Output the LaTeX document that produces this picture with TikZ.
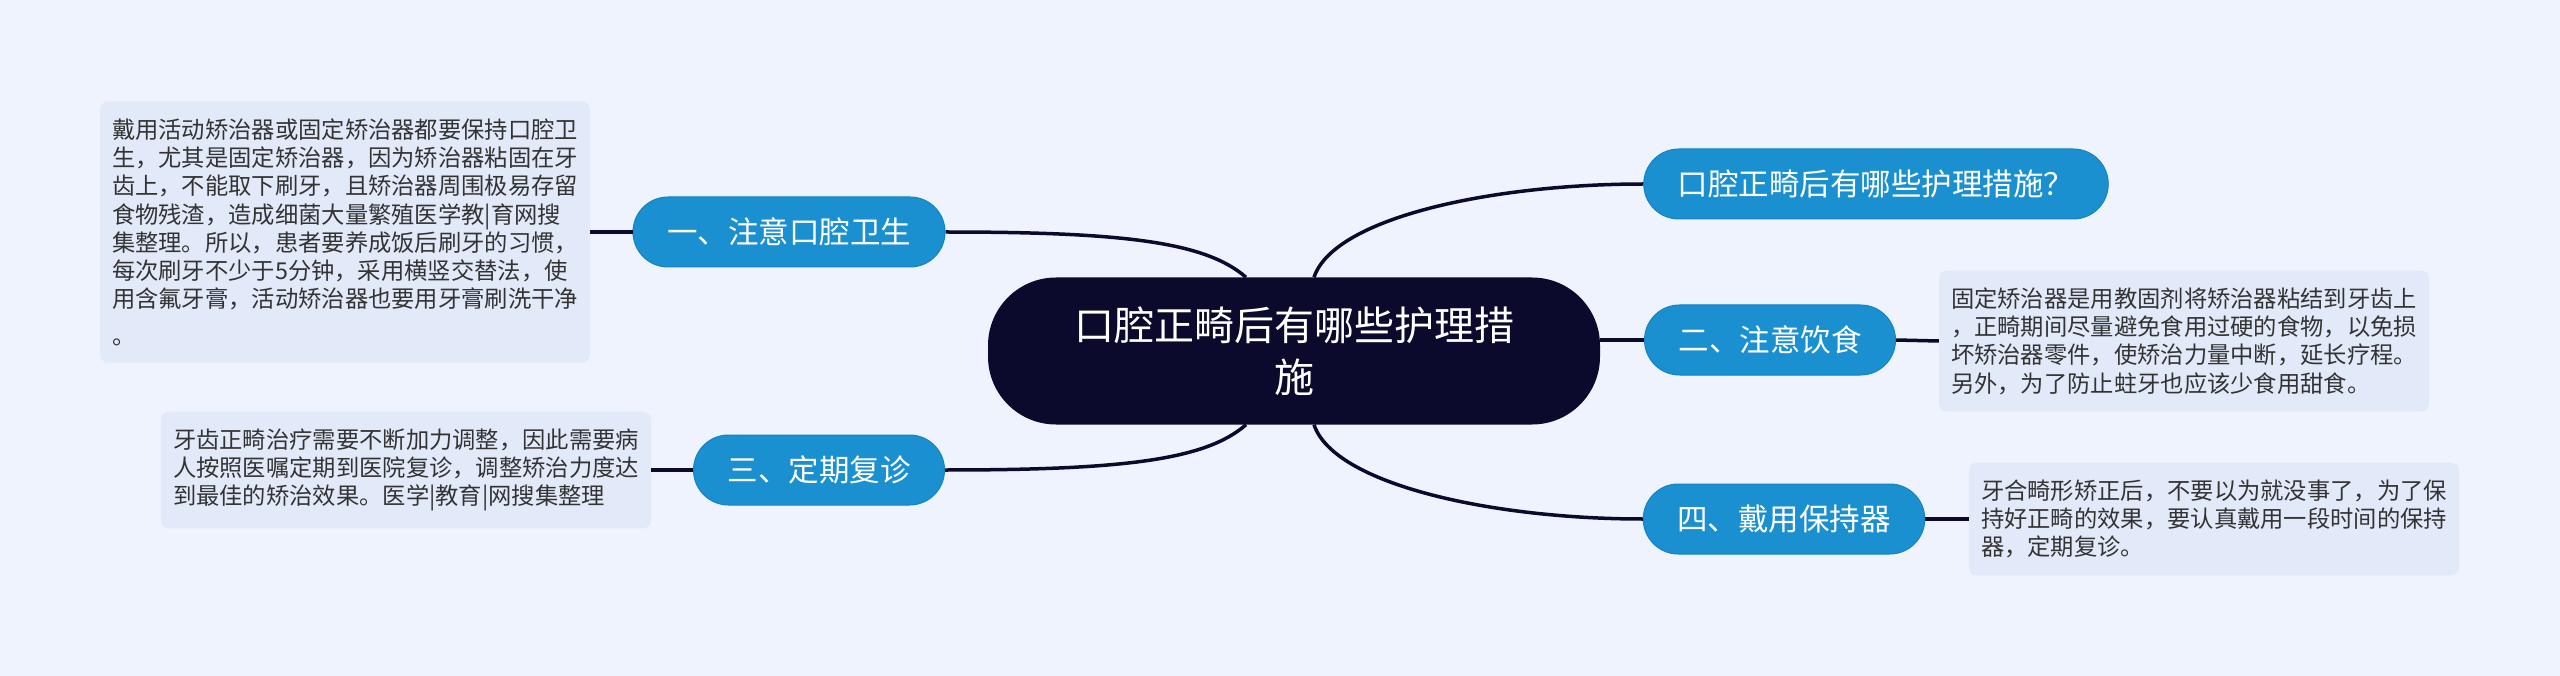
\documentclass[tikz,border=0pt]{standalone}
\usepackage{fontspec}
\usepackage{tikz}
\usetikzlibrary{calc}
\newfontfamily\cjk{Noto Sans CJK SC}
\definecolor{bgblue}{HTML}{EEF3FD}
\definecolor{notebg}{HTML}{E2EAFA}
\definecolor{branchblue}{HTML}{1A90D0}
\definecolor{branchedge}{HTML}{1782C2}
\definecolor{rootnavy}{HTML}{0B0A2D}
\definecolor{notetext}{HTML}{333333}

\begin{document}
\begin{tikzpicture}[x=1pt,y=-1pt,
  rootnode/.style={fill=rootnavy, text=white, align=center, rounded corners=68pt,
    minimum width=612pt, minimum height=147pt, font=\cjk\fontsize{40}{52}\selectfont},
  branchnode/.style={fill=branchblue, draw=branchedge, line width=1pt, text=white,
    rounded corners=35pt, minimum height=70pt, inner xsep=34pt, font=\cjk\fontsize{30.5}{36}\selectfont},
  notebox/.style={fill=notebg, text=notetext, align=left, rounded corners=8pt,
    inner xsep=12pt, inner ysep=17pt, font=\cjk\fontsize{23.3}{28.3}\selectfont},
  link/.style={draw=rootnavy, line width=3.5pt}]
\fill[bgblue] (0,0) rectangle (2560,676);
% centre
\node[rootnode] (root) at (1294,351) {口腔正畸后有哪些护理措\\施};
% right side
\node[branchnode, minimum width=460pt] (q) at (1876,184) {口腔正畸后有哪些护理措施？};
\node[branchnode] (n2) at (1770,340) {二、注意饮食};
\node[notebox] (t2) at (2184,341) {固定矫治器是用教固剂将矫治器粘结到牙齿上\\，正畸期间尽量避免食用过硬的食物，以免损\\坏矫治器零件，使矫治力量中断，延长疗程。\\另外，为了防止蛀牙也应该少食用甜食。};
\node[branchnode] (n4) at (1784,519) {四、戴用保持器};
\node[notebox] (t4) at (2214,519) {牙合畸形矫正后，不要以为就没事了，为了保\\持好正畸的效果，要认真戴用一段时间的保持\\器，定期复诊。};
% left side
\node[branchnode] (n1) at (789,232) {一、注意口腔卫生};
\node[notebox] (t1) at (345,232) {戴用活动矫治器或固定矫治器都要保持口腔卫\\生，尤其是固定矫治器，因为矫治器粘固在牙\\齿上，不能取下刷牙，且矫治器周围极易存留\\食物残渣，造成细菌大量繁殖医学教|育网搜\\集整理。所以，患者要养成饭后刷牙的习惯，\\每次刷牙不少于5分钟，采用横竖交替法，使\\用含氟牙膏，活动矫治器也要用牙膏刷洗干净\\[8pt]。};
\node[branchnode] (n3) at (819,470) {三、定期复诊};
\node[notebox] (t3) at (406,470) {牙齿正畸治疗需要不断加力调整，因此需要病\\人按照医嘱定期到医院复诊，调整矫治力度达\\到最佳的矫治效果。医学|教育|网搜集整理};
% links
\draw[link] ([xshift=20pt]root.north) .. controls +(20,-60) and +(-150,0) .. (q.west);
\draw[link] (n2.west -| root.east) -- (n2.west);
\draw[link] ([xshift=20pt]root.south) .. controls +(20,60) and +(-150,0) .. (n4.west);
\draw[link] ([xshift=-48pt]root.north) .. controls +(-40,-35) and +(180,0) .. (n1.east);
\draw[link] ([xshift=-48pt]root.south) .. controls +(-40,35) and +(180,0) .. (n3.east);
\draw[link] (t1.east) -- (n1.west);
\draw[link] (t3.east) -- (n3.west);
\draw[link] (n2.east) -- (t2.west);
\draw[link] (n4.east) -- (t4.west);
\end{tikzpicture}
\end{document}
